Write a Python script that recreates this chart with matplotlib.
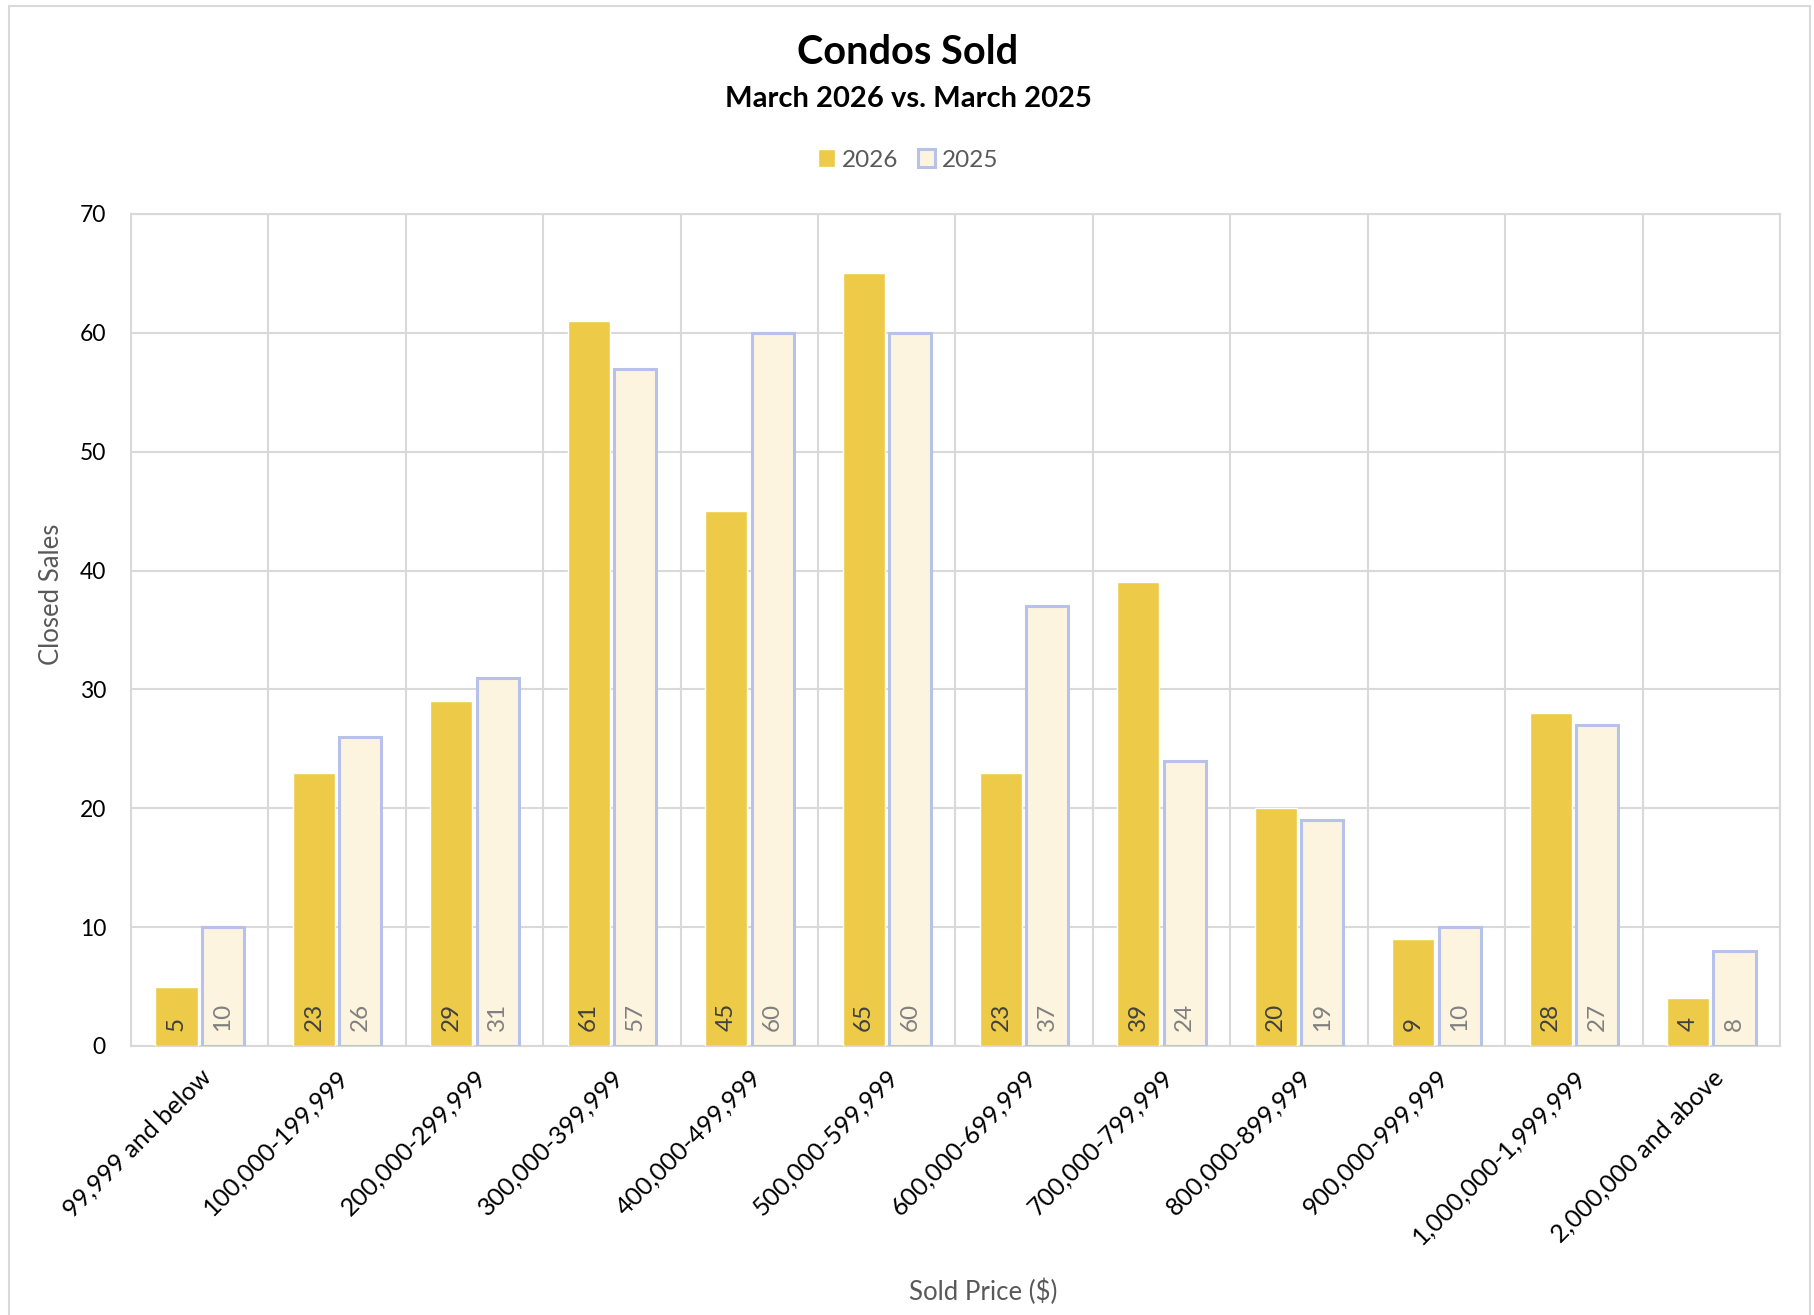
import matplotlib.pyplot as plt
import matplotlib.patches as patches
import numpy as np

# price ranges and closed sales
price_ranges = ['99,999 and below', '100,000-199,999', '200,000-299,999', '300,000-399,999',
                '400,000-499,999', '500,000-599,999', '600,000-699,999', '700,000-799,999',
                '800,000-899,999', '900,000-999,999', '1,000,000-1,999,999', '2,000,000 and above']
sales_2026 = [5, 23, 29, 61, 45, 65, 23, 39, 20, 9, 28, 4]
sales_2025 = [10, 26, 31, 57, 60, 60, 37, 24, 19, 10, 27, 8]

plt.rcParams['font.family'] = ['Lato', 'DejaVu Sans']

W, H = 1815, 1315
fig = plt.figure(figsize=(W / 100, H / 100), dpi=100)
ax = fig.add_axes([131 / W, 1 - 1046 / H, (1780 - 131) / W, (1046 - 214) / H])

x = np.arange(len(price_ranges))
bw = 0.306
off = 0.169
gold = '#EDCB48'
cream = '#FCF4DE'
edge = '#B7C2EA'

b1 = ax.bar(x - off, sales_2026, bw, color=gold, edgecolor='white', linewidth=1, label='2026', zorder=3)
b2 = ax.bar(x + off, sales_2025, bw, color=cream, edgecolor=edge, linewidth=2.2, label='2025', zorder=3)

for xi, v in zip(x, sales_2026):
    ax.annotate(str(v), (xi - off, 0), xytext=(0, 11), textcoords='offset points',
                rotation=90, ha='center', va='bottom', fontsize=17.5, color='#404040', zorder=4)
for xi, v in zip(x, sales_2025):
    ax.annotate(str(v), (xi + off, 0), xytext=(0, 11), textcoords='offset points',
                rotation=90, ha='center', va='bottom', fontsize=17.5, color='#808080', zorder=4)

ax.set_xlim(-0.5, len(price_ranges) - 0.5)
ax.set_ylim(0, 70)
ax.set_yticks(range(0, 71, 10))
ax.set_xticks(x)
ax.set_xticklabels(price_ranges, rotation=45, ha='right', rotation_mode='anchor', fontsize=18)
ax.tick_params(axis='y', labelsize=16.5, length=0, pad=18)
ax.tick_params(axis='x', length=0, pad=14)

# category separators and horizontal gridlines
for b in np.arange(-0.5, len(price_ranges), 1):
    ax.axvline(b, color='#D9D9D9', lw=1.5, zorder=1)
ax.yaxis.grid(True, color='#D9D9D9', lw=1.5, zorder=1)
ax.set_axisbelow(True)
for s in ax.spines.values():
    s.set_color('#D9D9D9')
    s.set_linewidth(1.5)

fig.text(908 / W, 1 - 52 / H, 'Condos Sold', ha='center', va='center', fontsize=28.5, fontweight='bold')
fig.text(908 / W, 1 - 99 / H, 'March 2026 vs. March 2025', ha='center', va='center', fontsize=21, fontweight='bold')
fig.text(52 / W, 1 - 594 / H, 'Closed Sales', rotation=90, ha='center', va='center', fontsize=18.5, color='#595959')
fig.text(983 / W, 1 - 1292 / H, 'Sold Price ($)', ha='center', va='center', fontsize=18.5, color='#595959')

fig.legend(handles=[b1, b2], loc='center', bbox_to_anchor=(908 / W, 1 - 160 / H), ncol=2, frameon=False,
           fontsize=17.5, labelcolor='#595959', handlelength=0.7, handleheight=0.7, handletextpad=0.3,
           columnspacing=0.8)

fig.patches.append(patches.Rectangle((9 / W, -0.01), (1810 - 9) / W, 1.01 - 6 / H, transform=fig.transFigure,
                                     fill=False, edgecolor='#D9D9D9', lw=1.5))

fig.savefig('out.png', dpi=100)
